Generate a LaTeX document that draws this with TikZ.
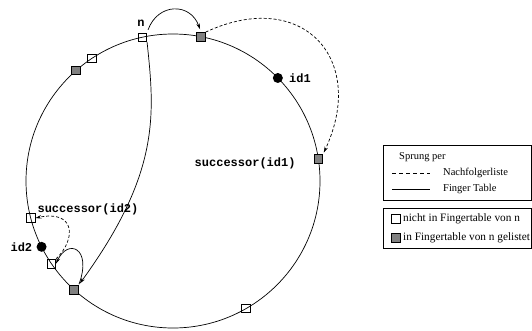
\documentclass[tikz,border=0pt]{standalone}
\usepackage{fontspec}
\setmainfont{Liberation Serif}
\setmonofont{Liberation Mono}
\usetikzlibrary{calc,positioning,arrows.meta}

\definecolor{fingergray}{gray}{0.5}
\tikzset{
	peer/.style={draw, minimum size=8.5pt, inner sep=0pt, line width=0.7pt},
	finger/.style={peer, fill=fingergray},
	key/.style={circle, fill=black, minimum size=10pt, inner sep=0pt},
	lbl/.style={font=\ttfamily\bfseries\fontsize{12}{14}\selectfont, inner sep=0pt},
	legtext/.style={font=\fontsize{10.5}{13}\selectfont, inner sep=0pt, anchor=west},
	bigleg/.style={legtext, font=\fontsize{11.3}{13}\selectfont},
	hop/.style={line width=0.7pt, -{Stealth[length=6pt,width=3.5pt]}},
	succhop/.style={hop, dash pattern=on 3pt off 2pt},
}

\begin{document}
\begin{tikzpicture}[x=1pt,y=1pt]
\useasboundingbox (0,0) rectangle (532,330);

% Ring
\coordinate (M) at (173,149);
\draw[line width=0.7pt] (M) circle (147);

% Knoten auf dem Ring
\node[peer]   (n)   at ($(M)+(102:147)$) {};
\node[finger] (f1)  at ($(M)+(79:147)$) {};
\node[peer]   (p1)  at ($(M)+(123.6:147)$) {};
\node[finger] (f2)  at ($(M)+(131.3:147)$) {};
\node[key]    (id1) at ($(M)+(44.5:147)$) {};
\node[finger] (s1)  at ($(M)+(8.6:147)$) {};
\node[peer]   (s2)  at ($(M)+(194.6:147)$) {};
\node[key]    (id2) at ($(M)+(206.6:147)$) {};
\node[peer]   (p2)  at ($(M)+(214.2:147)$) {};
\node[finger] (f3)  at ($(M)+(227.7:147)$) {};
\node[peer]   (p3)  at ($(M)+(299.8:147)$) {};

% Beschriftungen
\node[lbl, above=6pt of n, xshift=-1.5pt] (ln) {n};
\node[lbl, right=6pt of id1] (lid1) {id1};
\node[lbl, left=18pt of s1, yshift=-4pt] (ls1) {successor(id1)};
\node[lbl, anchor=west] (ls2) at ($(s2.east)+(2,9)$) {successor(id2)};
\node[lbl, left=4pt of id2] (lid2) {id2};

% Spruenge per Finger Table
\draw[hop, shorten <=3pt, shorten >=3pt] (n.north east) to[out=70,in=110,looseness=1.5] (f1.north);
\draw[hop, shorten >=2pt] (n.south east) .. controls +(-84:72) and +(54:140) .. (f3.north east);
\draw[hop, shorten <=1pt] (f3.north east) .. controls +(70:40) and +(65:28) .. (p2.east);

% Spruenge per Nachfolgerliste
\draw[succhop, shorten >=2pt] (f1.north east) to[out=25,in=65,looseness=1.6] (s1.north east);
\draw[succhop] (p2.north east) .. controls +(45:30) and +(12:40) .. (s2.east);

% Legende
\draw[line width=1pt] (383,185) rectangle (531,130);
\node[legtext] (lsp) at (399,173) {Sprung per};
\draw[dash pattern=on 4pt off 3pt, line width=0.7pt] (392,157) -- (430,157);
\node[legtext] (lnf) at (443,157) {Nachfolgerliste};
\draw[line width=0.7pt] (392,141) -- (430,141);
\node[legtext] (lft) at (443,141) {Finger Table};

\draw[line width=1pt] (383,122) rectangle (531,82);
\node[peer] (lw) at (396,111) {};
\node[bigleg] (lwt) at (403,111) {nicht in Fingertable von n};
\node[finger] (lg) at (396,92) {};
\node[bigleg] (lgt) at (403,92) {in Fingertable von n gelistet};

\end{tikzpicture}
\end{document}
